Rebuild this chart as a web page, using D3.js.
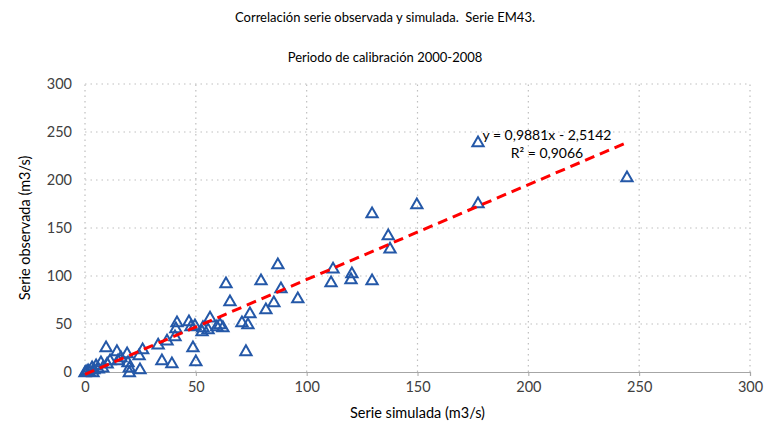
<!DOCTYPE html>
<html><head><meta charset="utf-8">
<script src="https://cdn.jsdelivr.net/npm/d3@7"></script>
<style>body{margin:0;background:#fff}svg{display:block}text{white-space:pre}</style>
</head><body><svg id="c" width="769" height="425"></svg>
<script>
const titleLines = ["Correlación serie observada y simulada.  Serie EM43.", "Periodo de calibración 2000-2008"];
const xLabel = "Serie simulada (m3/s)";
const yLabel = "Serie observada (m3/s)";
const xTicks = [0, 50, 100, 150, 200, 250, 300];
const yTicks = [0, 50, 100, 150, 200, 250, 300];
const simulated = [0,0.5,1.4,2,3.2,3.6,4,5,6,7.2,8,9.5,11.3,10,14.4,14.9,16.2,19,19.4,20,20,24.4,26,24.8,33,34.7,37,39.2,40.6,41,41.5,46.9,47.8,48.7,49.6,50,52.8,53.2,55.5,56.4,59.5,60.9,62.2,63.6,65.4,70.8,72.6,73.5,74.4,79.4,81.6,85.2,87,88.4,96,111,111.9,120,120.4,129.5,129.5,136.8,137.6,149.7,177.3,177.3,244.5];
const observed  = [0,1,2,0.5,5.2,0,3,7.3,4,10.4,5,26,12.5,9,22,12.5,15.6,19.8,10.4,5,0,17.7,24,3,29,12.5,33,9.4,37.5,45.8,52,53,48,26,49,11.5,42.7,47,44.8,57,48,50,47,92.7,74,52,22,50,61.5,95.8,65.6,73,112.5,87.5,77,93.7,108,97,103,95.8,165.6,142.7,129,175,239.6,176,203];
const slope = 0.9881, intercept = -2.5142;
const eqText = "y = 0,9881x - 2,5142";
const r2Text = "R² = 0,9066";

const svg = d3.select("#c");
const font = "Lato, 'Liberation Sans', sans-serif";
const x = d3.scaleLinear().domain([0,300]).range([85,750]);
const y = d3.scaleLinear().domain([0,300]).range([372,84]);

// titles
svg.append("text").attr("x",385).attr("y",22).attr("text-anchor","middle")
  .attr("font-family",font).attr("font-size",13).attr("fill","#000").text(titleLines[0]);
svg.append("text").attr("x",385).attr("y",62).attr("text-anchor","middle")
  .attr("font-family",font).attr("font-size",13).attr("fill","#000").text(titleLines[1]);

// gridlines
const grid = svg.append("g");
grid.selectAll(".hg").data(yTicks.filter(d=>d>0)).enter().append("line")
  .attr("x1",x(0)).attr("x2",x(300)).attr("y1",d=>y(d)).attr("y2",d=>y(d))
  .attr("stroke","#bfbfbf").attr("stroke-width",1.2).attr("stroke-dasharray","1.5,4");
grid.selectAll(".vg").data(xTicks).enter().append("line")
  .attr("x1",d=>x(d)).attr("x2",d=>x(d)).attr("y1",y(0)).attr("y2",y(300))
  .attr("stroke","#bfbfbf").attr("stroke-width",1.2).attr("stroke-dasharray","1.5,4");

// x axis
const xa = svg.append("g").attr("transform",`translate(0,${y(0)})`)
  .call(d3.axisBottom(x).tickValues(xTicks).tickSize(4).tickPadding(6));
xa.select(".domain").attr("stroke","#a6a6a6").attr("stroke-width",1.2);
xa.selectAll(".tick line").attr("stroke","#a6a6a6");
xa.selectAll("text").attr("font-family",font).attr("font-size",14.5).attr("fill","#404040");

// y axis
const ya = svg.append("g").attr("transform",`translate(${x(0)},0)`)
  .call(d3.axisLeft(y).tickValues(yTicks).tickSize(0).tickPadding(13));
ya.select(".domain").remove();
ya.selectAll("text").attr("font-family",font).attr("font-size",14.5).attr("fill","#404040");

// axis titles
svg.append("text").attr("x",(x(0)+x(300))/2).attr("y",418).attr("text-anchor","middle")
  .attr("font-family",font).attr("font-size",14.5).attr("fill","#000").text(xLabel);
svg.append("text").attr("transform",`translate(30,${(y(0)+y(300))/2}) rotate(-90)`)
  .attr("text-anchor","middle").attr("font-family",font).attr("font-size",14.5).attr("fill","#000").text(yLabel);

// points
const tri = d3.symbol().type(d3.symbolTriangle).size(55);
svg.append("g").selectAll("path").data(simulated.map((s,i)=>[s,observed[i]])).enter().append("path")
  .attr("d",tri).attr("transform",d=>`translate(${x(d[0])},${y(d[1])+1})`)
  .attr("fill","none").attr("stroke","#2458a8").attr("stroke-width",2);

// trendline
const xmin = d3.min(simulated), xmax = d3.max(simulated);
svg.append("line").attr("x1",x(xmin)).attr("y1",y(slope*xmin+intercept))
  .attr("x2",x(xmax)).attr("y2",y(slope*xmax+intercept))
  .attr("stroke","#ff0000").attr("stroke-width",3).attr("stroke-dasharray","10,6");

// equation labels
svg.append("text").attr("x",x(208.4)).attr("y",y(247)+5).attr("text-anchor","middle")
  .attr("font-family",font).attr("font-size",14).attr("fill","#000").text(eqText);
svg.append("text").attr("x",x(208.4)).attr("y",y(228)+5).attr("text-anchor","middle")
  .attr("font-family",font).attr("font-size",14).attr("fill","#000").text(r2Text);
</script></body></html>
